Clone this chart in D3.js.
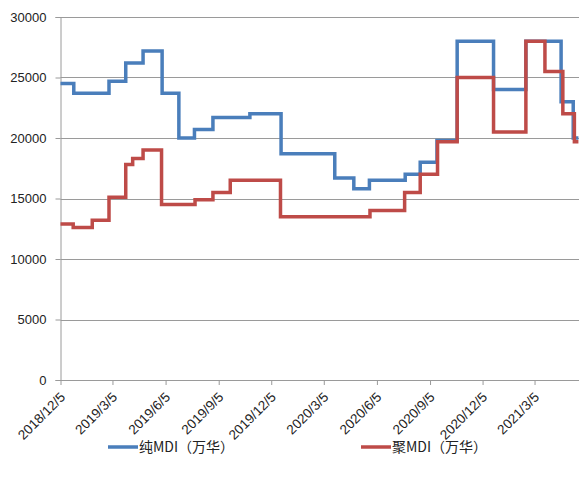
<!DOCTYPE html>
<html>
<head>
<meta charset="utf-8">
<script src="https://cdn.jsdelivr.net/npm/d3@7/dist/d3.min.js"></script>
<style>
  html, body { margin: 0; padding: 0; background: #fff; }
  svg { display: block; }
</style>
</head>
<body>
<svg id="chart" width="579" height="488"></svg>
<script>
// Price-change dates and prices (yuan/ton); each value holds until the next date.
const pureDates = ["2018-12-05","2018-12-28","2019-02-27","2019-03-28","2019-04-27","2019-05-30",
  "2019-06-28","2019-07-25","2019-08-26","2019-10-29","2019-12-22","2020-03-24","2020-04-26",
  "2020-05-23","2020-07-24","2020-08-19","2020-09-17","2020-10-22","2020-12-24","2021-02-18",
  "2021-04-20","2021-05-11","2021-05-20"];
const pureValues = [24500,23700,24700,26200,27200,23700,20000,20700,21700,22000,18700,16700,15800,
  16500,17000,18000,19800,28000,24000,28000,23000,20000,20000];

const polyDates = ["2018-12-05","2018-12-27","2019-01-29","2019-02-27","2019-03-28","2019-04-09",
  "2019-04-27","2019-05-29","2019-07-26","2019-08-26","2019-09-25","2019-12-21","2020-05-24",
  "2020-07-23","2020-08-19","2020-09-18","2020-10-22","2020-12-24","2021-02-18","2021-03-23",
  "2021-04-23","2021-05-13","2021-05-20"];
const polyValues = [12900,12600,13200,15100,17800,18300,19000,14500,14900,15500,16500,13500,14000,
  15500,17000,19700,25000,20500,28000,25500,22000,19700,19700];

const xTickLabels = ["2018/12/5","2019/3/5","2019/6/5","2019/9/5","2019/12/5",
  "2020/3/5","2020/6/5","2020/9/5","2020/12/5","2021/3/5"];
const yTicks = [0,5000,10000,15000,20000,25000,30000];
const seriesNames = ["纯MDI（万华）","聚MDI（万华）"];
const seriesColors = ["#4A7EBB","#BE4B48"];

const parseIso = d3.timeParse("%Y-%m-%d");
const parseLabel = d3.timeParse("%Y/%m/%d");
const fmtLabel = d => `${d.getFullYear()}/${d.getMonth()+1}/${d.getDate()}`;

const svg = d3.select("#chart");
const plot = { left: 60.5, right: 579, top: 17, bottom: 380 };

const x = d3.scaleTime()
  .domain([parseIso("2018-12-05"), parseIso("2021-05-21")])
  .range([plot.left, plot.right]);
const y = d3.scaleLinear().domain([0, 30000]).range([plot.bottom, plot.top]);

// horizontal gridlines
svg.append("g")
  .selectAll("line")
  .data(yTicks.filter(v => v > 0))
  .join("line")
  .attr("x1", plot.left).attr("x2", plot.right)
  .attr("y1", d => Math.round(y(d)) + 0.5).attr("y2", d => Math.round(y(d)) + 0.5)
  .attr("stroke", "#9a9a9a").attr("stroke-width", 1);

// y axis
const yAxis = svg.append("g")
  .attr("transform", `translate(${plot.left},0)`)
  .call(d3.axisLeft(y).tickValues(yTicks).tickSize(5).tickPadding(9).tickFormat(d3.format("d")));
yAxis.select(".domain").attr("stroke", "#9a9a9a");
yAxis.selectAll(".tick line").attr("stroke", "#9a9a9a");
yAxis.selectAll(".tick text")
  .attr("fill", "#222").style("font-family", "'Liberation Sans', Arial, sans-serif").style("font-size", "13px");

// x axis
const xTickDates = xTickLabels.map(parseLabel);
const xAxis = svg.append("g")
  .attr("transform", `translate(0,${plot.bottom})`)
  .call(d3.axisBottom(x).tickValues(xTickDates).tickSize(5).tickFormat(fmtLabel));
xAxis.select(".domain").attr("stroke", "#9a9a9a").attr("d", `M${plot.left},0.5H${plot.right}`);
xAxis.selectAll(".tick line").attr("stroke", "#9a9a9a");
xAxis.selectAll(".tick text")
  .attr("fill", "#222")
  .style("font-family", "'Liberation Sans', Arial, sans-serif").style("font-size", "13.5px")
  .attr("text-anchor", "end")
  .attr("dy", null)
  .attr("transform", "translate(5,18) rotate(-45)")
  .attr("x", 0).attr("y", 0);

// step lines
const line = d3.line()
  .x(d => x(d.date))
  .y(d => y(d.value))
  .curve(d3.curveStepAfter);

const series = [
  pureDates.map((d, i) => ({ date: parseIso(d), value: pureValues[i] })),
  polyDates.map((d, i) => ({ date: parseIso(d), value: polyValues[i] }))
];

svg.append("g")
  .selectAll("path")
  .data(series)
  .join("path")
  .attr("d", line)
  .attr("fill", "none")
  .attr("stroke", (d, i) => seriesColors[i])
  .attr("stroke-width", 3.5)
  .attr("stroke-linejoin", "miter");

// legend
const legendX = [108, 361];
const legend = svg.append("g")
  .selectAll("g")
  .data(seriesNames)
  .join("g")
  .attr("transform", (d, i) => `translate(${legendX[i]},447)`);
legend.append("line")
  .attr("x1", 0).attr("x2", 30).attr("y1", 0).attr("y2", 0)
  .attr("stroke", (d, i) => seriesColors[i]).attr("stroke-width", 3.5);
legend.append("text")
  .attr("x", 31).attr("y", 5)
  .attr("fill", "#222")
  .style("font-family", "'Noto Sans CJK SC', sans-serif").style("font-size", "14px")
  .text(d => d);
</script>
</body>
</html>
